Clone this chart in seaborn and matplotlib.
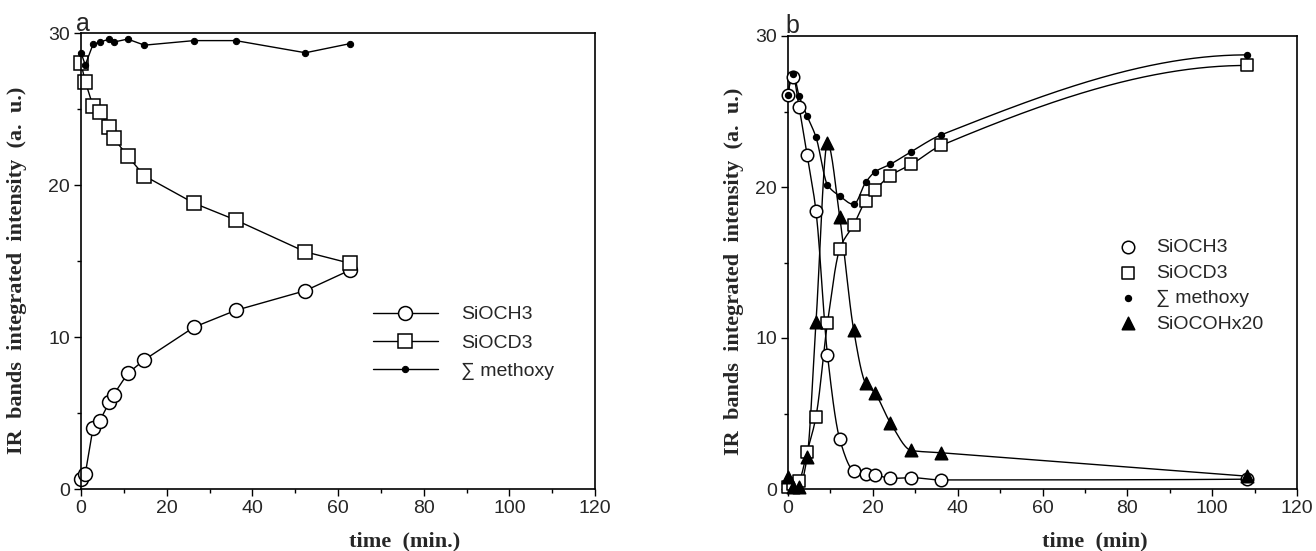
import numpy as np
import seaborn as sns
import matplotlib
matplotlib.use('Agg')
import matplotlib.pyplot as plt

# panel a : isotopic exchange
time_a = [0, 1.0, 2.8, 4.4, 6.6, 7.6, 10.9, 14.8, 26.4, 36.1, 52.4, 62.8]
sioch3_a = [0.65, 1.0, 4.0, 4.5, 5.7, 6.2, 7.6, 8.5, 10.65, 11.75, 13.05, 14.4]
siocd3_a = [28.0, 26.8, 25.2, 24.8, 23.8, 23.1, 21.9, 20.6, 18.8, 17.7, 15.6, 14.85]
methoxy_a = [28.7, 27.9, 29.25, 29.4, 29.6, 29.4, 29.6, 29.2, 29.5, 29.5, 28.7, 29.3]

# panel b
time_b = [0, 1.2, 2.6, 4.5, 6.6, 9.3, 12.2, 15.5, 18.3, 20.5, 24.1, 29.1, 36.1, 108.2]
sioch3_b = [26.1, 27.3, 25.3, 22.1, 18.4, 8.9, 3.3, 1.2, 1.0, 0.95, 0.7, 0.75, 0.6, 0.65]
siocd3_b = [0.1, 0.3, 0.55, 2.45, 4.8, 11.0, 15.9, 17.5, 19.1, 19.8, 20.75, 21.5, 22.75, 28.05]
methoxy_b = [26.1, 27.5, 26.05, 24.7, 23.3, 20.15, 19.4, 18.85, 20.3, 21.0, 21.5, 22.35, 23.45, 28.75]
siocoh_b = [0.8, 0.15, 0.1, 2.1, 11.05, 22.9, 18.0, 10.5, 7.0, 6.35, 4.4, 2.55, 2.4, 0.85]


def pchip(x, y, n=600):
    # monotone cubic curve through the points, used for the smooth lines
    x = np.asarray(x, float)
    y = np.asarray(y, float)
    h = np.diff(x)
    d = np.diff(y) / h
    m = np.zeros_like(y)
    for k in range(1, len(x) - 1):
        if d[k - 1] * d[k] > 0:
            w1 = 2 * h[k] + h[k - 1]
            w2 = h[k] + 2 * h[k - 1]
            m[k] = (w1 + w2) / (w1 / d[k - 1] + w2 / d[k])

    def end(h0, h1, d0, d1):
        v = ((2 * h0 + h1) * d0 - h0 * d1) / (h0 + h1)
        if np.sign(v) != np.sign(d0):
            return 0.0
        if np.sign(d0) != np.sign(d1) and abs(v) > abs(3 * d0):
            return 3 * d0
        return v

    m[0] = end(h[0], h[1], d[0], d[1])
    m[-1] = end(h[-1], h[-2], d[-1], d[-2])
    xs = np.linspace(x[0], x[-1], n)
    idx = np.clip(np.searchsorted(x, xs) - 1, 0, len(x) - 2)
    t = (xs - x[idx]) / h[idx]
    h00 = 2 * t**3 - 3 * t**2 + 1
    h10 = t**3 - 2 * t**2 + t
    h01 = -2 * t**3 + 3 * t**2
    h11 = t**3 - t**2
    ys = h00 * y[idx] + h10 * h[idx] * m[idx] + h01 * y[idx + 1] + h11 * h[idx] * m[idx + 1]
    return xs, ys


sns.set_style('ticks')
plt.rcParams['font.family'] = ['Liberation Sans', 'DejaVu Sans']
plt.rcParams['xtick.direction'] = 'out'
plt.rcParams['ytick.direction'] = 'out'

W, H = 1316, 551
fig = plt.figure(figsize=(W / 100, H / 100), dpi=100)
ax1 = fig.add_axes([81 / W, 1 - 489 / H, (595 - 81) / W, (489 - 33) / H])
ax2 = fig.add_axes([788 / W, 1 - 489 / H, (1297 - 788) / W, (489 - 36) / H])

lab_font = dict(family='Liberation Serif', weight='bold', size=16)

# ---- panel a
sns.lineplot(x=time_a, y=sioch3_a, ax=ax1, color='black', lw=1, marker='o', ms=10,
             mfc='white', mec='black', mew=1.1, label='SiOCH3', errorbar=None, clip_on=False)
sns.lineplot(x=time_a, y=siocd3_a, ax=ax1, color='black', lw=1, marker='s', ms=10,
             mfc='white', mec='black', mew=1.1, label='SiOCD3', errorbar=None, clip_on=False)
sns.lineplot(x=time_a, y=methoxy_a, ax=ax1, color='black', lw=1, marker='o', ms=4.5,
             mfc='black', mec='black', label='\u2211 methoxy', errorbar=None, clip_on=False)
ax1.legend(loc='upper left', bbox_to_anchor=(363 / W, 1 - 296 / H), bbox_transform=fig.transFigure,
           frameon=False, handlelength=3.35, handletextpad=1.2, labelspacing=0.55, borderpad=0,
           fontsize=14)

# ---- panel b
series_b = [
    (sioch3_b, 'o', 'white', 9, 'SiOCH3'),
    (siocd3_b, 's', 'white', 8.5, 'SiOCD3'),
    (methoxy_b, 'o', 'black', 4.2, '\u2211 methoxy'),
    (siocoh_b, '^', 'black', 9, 'SiOCOHx20'),
]
for vals, mk, fc, ms, name in series_b:
    xs, ys = pchip(time_b, vals)
    ax2.plot(xs, ys, color='black', lw=1)
for vals, mk, fc, ms, name in series_b:
    sns.scatterplot(x=time_b, y=vals, ax=ax2, marker=mk, s=ms**2, color=fc,
                    edgecolor='black', linewidth=1.1, label=name, zorder=3, clip_on=False)
ax2.legend(loc='upper left', bbox_to_anchor=(1109 / W, 1 - 229 / H), bbox_transform=fig.transFigure,
           frameon=False, handlelength=1.0, handletextpad=0.9, labelspacing=0.4, borderpad=0,
           fontsize=14)

for ax in (ax1, ax2):
    ax.set_xlim(0, 120)
    ax.set_ylim(0, 30)
    ax.set_xticks(range(0, 121, 20))
    ax.set_xticks(range(10, 120, 20), minor=True)
    ax.set_yticks([0, 10, 20, 30])
    ax.set_yticks([5, 15, 25], minor=True)
    ax.tick_params(which='major', length=5, width=1, labelsize=14, pad=3, color='black')
    ax.tick_params(which='minor', length=3, width=1, color='black')
    for sp in ax.spines.values():
        sp.set_visible(True)
        sp.set_linewidth(1.2)
        sp.set_color('black')
    ax.set_ylabel('IR  bands  integrated  intensity  (a.  u.)', fontdict=lab_font)

ax1.set_xlabel('time  (min.)', fontdict=lab_font)
ax2.set_xlabel('time  (min)', fontdict=lab_font)
ax1.xaxis.set_label_coords((405 - 81) / 514, -(531 - 489) / 456)
ax2.xaxis.set_label_coords((1095 - 788) / 509, -(531 - 489) / 453)
ax1.yaxis.set_label_coords(-(81 - 27) / 514, 0.48)
ax2.yaxis.set_label_coords(-(788 - 744) / 509, 0.48)

fig.text(76 / W, 1 - 31 / H, 'a', fontsize=18, va='baseline')
fig.text(785 / W, 1 - 33 / H, 'b', fontsize=18, va='baseline')

fig.savefig('out.png', dpi=100)
